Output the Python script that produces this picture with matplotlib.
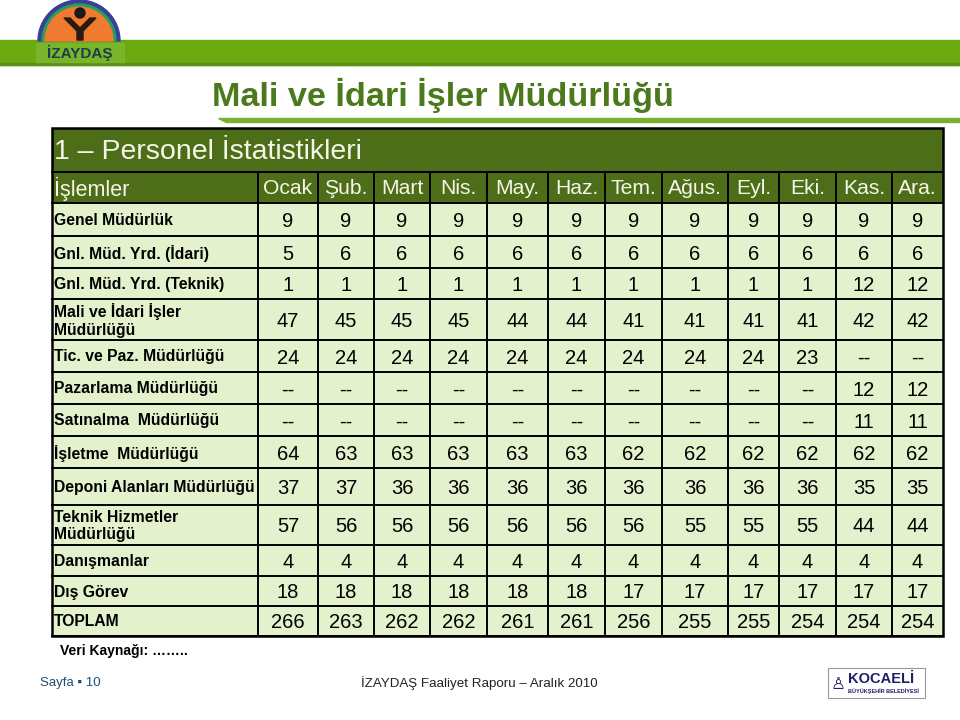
import matplotlib.pyplot as plt
from matplotlib.patches import Rectangle, Wedge, Circle, Polygon

plt.rcParams['font.family'] = ['Liberation Sans', 'DejaVu Sans']

# table data
title = 'Mali ve İdari İşler Müdürlüğü'
section = '1 – Personel İstatistikleri'
first_header = 'İşlemler'
months = ['Ocak', 'Şub.', 'Mart', 'Nis.', 'May.', 'Haz.', 'Tem.', 'Ağus.', 'Eyl.', 'Eki.', 'Kas.', 'Ara.']

labels = ['Genel Müdürlük', 'Gnl. Müd. Yrd. (İdari)', 'Gnl. Müd. Yrd. (Teknik)',
          'Mali ve İdari İşler\nMüdürlüğü', 'Tic. ve Paz. Müdürlüğü', 'Pazarlama Müdürlüğü',
          'Satınalma  Müdürlüğü', 'İşletme  Müdürlüğü', 'Deponi Alanları Müdürlüğü',
          'Teknik Hizmetler\nMüdürlüğü', 'Danışmanlar', 'Dış Görev', 'TOPLAM']

genel = [9, 9, 9, 9, 9, 9, 9, 9, 9, 9, 9, 9]
yrd_idari = [5, 6, 6, 6, 6, 6, 6, 6, 6, 6, 6, 6]
yrd_teknik = [1, 1, 1, 1, 1, 1, 1, 1, 1, 1, 12, 12]
mali = [47, 45, 45, 45, 44, 44, 41, 41, 41, 41, 42, 42]
ticpaz = [24, 24, 24, 24, 24, 24, 24, 24, 24, 23, '--', '--']
pazarlama = ['--'] * 10 + [12, 12]
satinalma = ['--'] * 10 + [11, 11]
isletme = [64, 63, 63, 63, 63, 63, 62, 62, 62, 62, 62, 62]
deponi = [37, 37, 36, 36, 36, 36, 36, 36, 36, 36, 35, 35]
teknik_hiz = [57, 56, 56, 56, 56, 56, 56, 55, 55, 55, 44, 44]
danisman = [4, 4, 4, 4, 4, 4, 4, 4, 4, 4, 4, 4]
dis_gorev = [18, 18, 18, 18, 18, 18, 17, 17, 17, 17, 17, 17]
toplam = [266, 263, 262, 262, 261, 261, 256, 255, 255, 254, 254, 254]

values = [genel, yrd_idari, yrd_teknik, mali, ticpaz, pazarlama, satinalma,
          isletme, deponi, teknik_hiz, danisman, dis_gorev, toplam]

# layout (pixels, figure is 960x720)
col_x = [52, 258, 318, 374, 430, 487, 548, 605, 662, 728, 779, 836, 892, 943]
row_y = [128, 172, 203, 236, 268, 299, 340, 372, 404, 436, 468, 505, 545, 576, 606, 636]

dark = '#4e6d18'
light = '#e4f1cd'
bar_green = '#6ba90f'
head_text = '#f4f6e8'

fig = plt.figure(figsize=(9.6, 7.2), dpi=100)
ax = fig.add_axes([0, 0, 1, 1])
ax.set_xlim(0, 960)
ax.set_ylim(720, 0)
ax.axis('off')

# top green band
ax.add_patch(Rectangle((0, 40), 960, 25, color=bar_green, zorder=1))
ax.add_patch(Rectangle((0, 63), 960, 2, color='#5b8f10', zorder=1))

# logo (y axis is inverted, so the upper half is 180..360)
cx, cy = 79, 41
ax.add_patch(Wedge((cx, cy), 41, 180, 360, color='#3b3f9c', zorder=2))
ax.add_patch(Wedge((cx, cy), 37, 180, 360, color='#23a05a', zorder=2))
ax.add_patch(Wedge((cx, cy), 34, 180, 360, color='#f07a30', zorder=2))
ax.add_patch(Circle((80, 13), 5, color='#1a1a1a', zorder=3))
ax.add_patch(Polygon([(64, 18), (70, 18), (80, 28), (90, 18), (96, 18), (83, 31),
                      (83, 40), (77, 40), (77, 31)], color='#2a1a10', zorder=3))
ax.add_patch(Rectangle((36, 43), 88, 19, color='#78b52a', zorder=3))
ax.text(80, 53, 'İZAYDAŞ', fontsize=11, fontweight='bold', color='#1d3d4a',
        ha='center', va='center', zorder=4)

# title and underline
ax.text(443, 95, title, fontsize=24.7, fontweight='bold', color='#4a7a1c',
        ha='center', va='center')
ax.add_patch(Polygon([(218, 118), (960, 118), (960, 122), (226, 122)],
                     color='#78b030', zorder=2))

# title row and header row
ax.add_patch(Rectangle((col_x[0], row_y[0]), col_x[-1] - col_x[0], row_y[2] - row_y[0],
                       facecolor=dark, edgecolor='none', zorder=2))
ax.text(col_x[0] + 2, (row_y[0] + row_y[1]) / 2 + 2, section, fontsize=20.5,
        color=head_text, ha='left', va='center', zorder=5)
hy = (row_y[1] + row_y[2]) / 2 + 1
ax.text(col_x[0] + 2, hy, first_header, fontsize=15.5, color=head_text,
        ha='left', va='center', zorder=5)
for j, m in enumerate(months):
    ax.text((col_x[j + 1] + col_x[j + 2]) / 2, hy, m, fontsize=15.2, color=head_text,
            ha='center', va='center', zorder=5)

# data rows
ax.add_patch(Rectangle((col_x[0], row_y[2]), col_x[-1] - col_x[0], row_y[-1] - row_y[2],
                       facecolor=light, edgecolor='none', zorder=2))
for i, (lab, vals) in enumerate(zip(labels, values)):
    y0, y1 = row_y[i + 2], row_y[i + 3]
    ym = (y0 + y1) / 2 + 1
    ax.text(col_x[0] + 2, ym, lab, fontsize=11.3, fontweight='bold', color='black',
            ha='left', va='center', linespacing=1.2, zorder=5)
    for j, v in enumerate(vals):
        ax.text((col_x[j + 1] + col_x[j + 2]) / 2, ym + 1, str(v), fontsize=14.5,
                color='black', ha='center', va='center', zorder=5)

# grid lines
lw = 1.4
for y in row_y[1:]:
    ax.plot([col_x[0], col_x[-1]], [y, y], color='black', lw=lw, zorder=4)
for x in col_x[1:-1]:
    ax.plot([x, x], [row_y[1], row_y[-1]], color='black', lw=lw, zorder=4)
ax.add_patch(Rectangle((col_x[0], row_y[0]), col_x[-1] - col_x[0], row_y[-1] - row_y[0],
                       facecolor='none', edgecolor='black', lw=1.8, zorder=4))

# source note
ax.text(60, 651, 'Veri Kaynağı: ……..', fontsize=10, fontweight='bold',
        color='black', ha='left', va='center')

# footer
ax.text(40, 683, 'Sayfa ▪ 10', fontsize=9.5, color='#1f4e79', ha='left', va='center')
ax.text(361, 683, 'İZAYDAŞ Faaliyet Raporu – Aralık 2010', fontsize=9.6, color='#222222',
        ha='left', va='center')
ax.add_patch(Rectangle((828, 668), 97, 30, facecolor='white', edgecolor='#999999',
                       lw=0.8, zorder=2))
ax.text(848, 679, 'KOCAELİ', fontsize=10.5, fontweight='bold', color='#1c1f6b',
        ha='left', va='center', zorder=3)
ax.text(848, 691, 'BÜYÜKŞEHİR BELEDİYESİ', fontsize=4, fontweight='bold',
        color='#1c1f6b', ha='left', va='center', zorder=3)
ax.text(838, 684, '♙', fontsize=12, color='#1c1f6b', ha='center', va='center', zorder=3)

fig.savefig('out.png', dpi=100)
